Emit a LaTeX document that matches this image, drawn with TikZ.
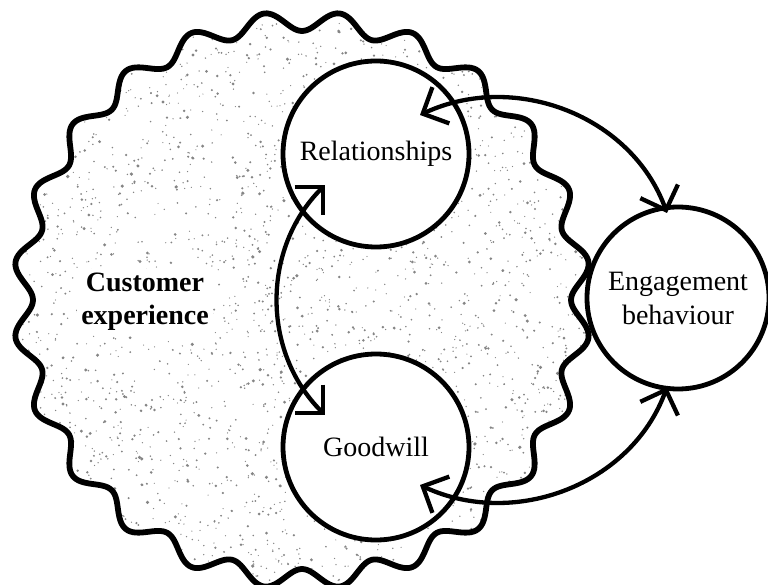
\documentclass[tikz,border=0pt]{standalone}
\usepackage{fontspec}
\setmainfont{Liberation Serif}
\usetikzlibrary{arrows.meta,calc}
\definecolor{dotgray}{gray}{0.52}
\begin{document}
\begin{tikzpicture}[x=1pt,y=-1pt,
  bubble/.style={circle, draw, line width=4.8pt, fill=white, minimum size=186pt, inner sep=0pt, font=\fontsize{28}{34}\selectfont, align=center},
  barb/.tip={Straight Barb[length=20pt,width=40pt]},
  link/.style={line width=4.3pt, barb-barb},
  wave/.style={line width=5.8pt, line join=round},
  label/.style={font=\bfseries\fontsize{28}{33}\selectfont, fill=white, align=center, inner sep=4pt}
]
\useasboundingbox (0,0) rectangle (768,585);
% stippled fill of the wavy region
\begin{scope}
  \clip plot[smooth cycle, domain=0:359, samples=360]
    ({302+(279-10*cos(24*\x))*cos(\x)}, {300+(279-10*cos(24*\x))*sin(\x)});
  \pgfmathsetseed{4242}
  \foreach \i in {1,...,3200}{
    \pgfmathsetmacro{\dx}{14+rnd*578}
    \pgfmathsetmacro{\dy}{10+rnd*580}
    \pgfmathsetmacro{\dr}{0.6+1.3*rnd*rnd}
    \fill[dotgray] (\dx,\dy) circle[radius=\dr pt];
  }
\end{scope}
% wavy outline
\draw[wave] plot[smooth cycle, domain=0:359, samples=360]
    ({302+(279-10*cos(24*\x))*cos(\x)}, {300+(279-10*cos(24*\x))*sin(\x)});
% nodes
\node[label] (cx) at (145,302) {Customer\\experience};
\node[bubble] (rel) at (376,154) {Relationships};
\node[bubble] (good) at (376,447) {Goodwill};
\node[bubble, minimum size=182pt] (eng) at (678,298) {Engagement\\behaviour};
% connectors
\draw[link] ($(rel)+(-51,31)$) to[out=225,in=135] ($(good)+(-51,-32)$);
\draw[link] ($(rel)+(44,-39)$) to[out=25,in=110] ($(eng)+(-11,-85)$);
\draw[link] ($(good)+(44,38)$) to[out=-25,in=-110] ($(eng)+(-11,89)$);
\end{tikzpicture}
\end{document}
